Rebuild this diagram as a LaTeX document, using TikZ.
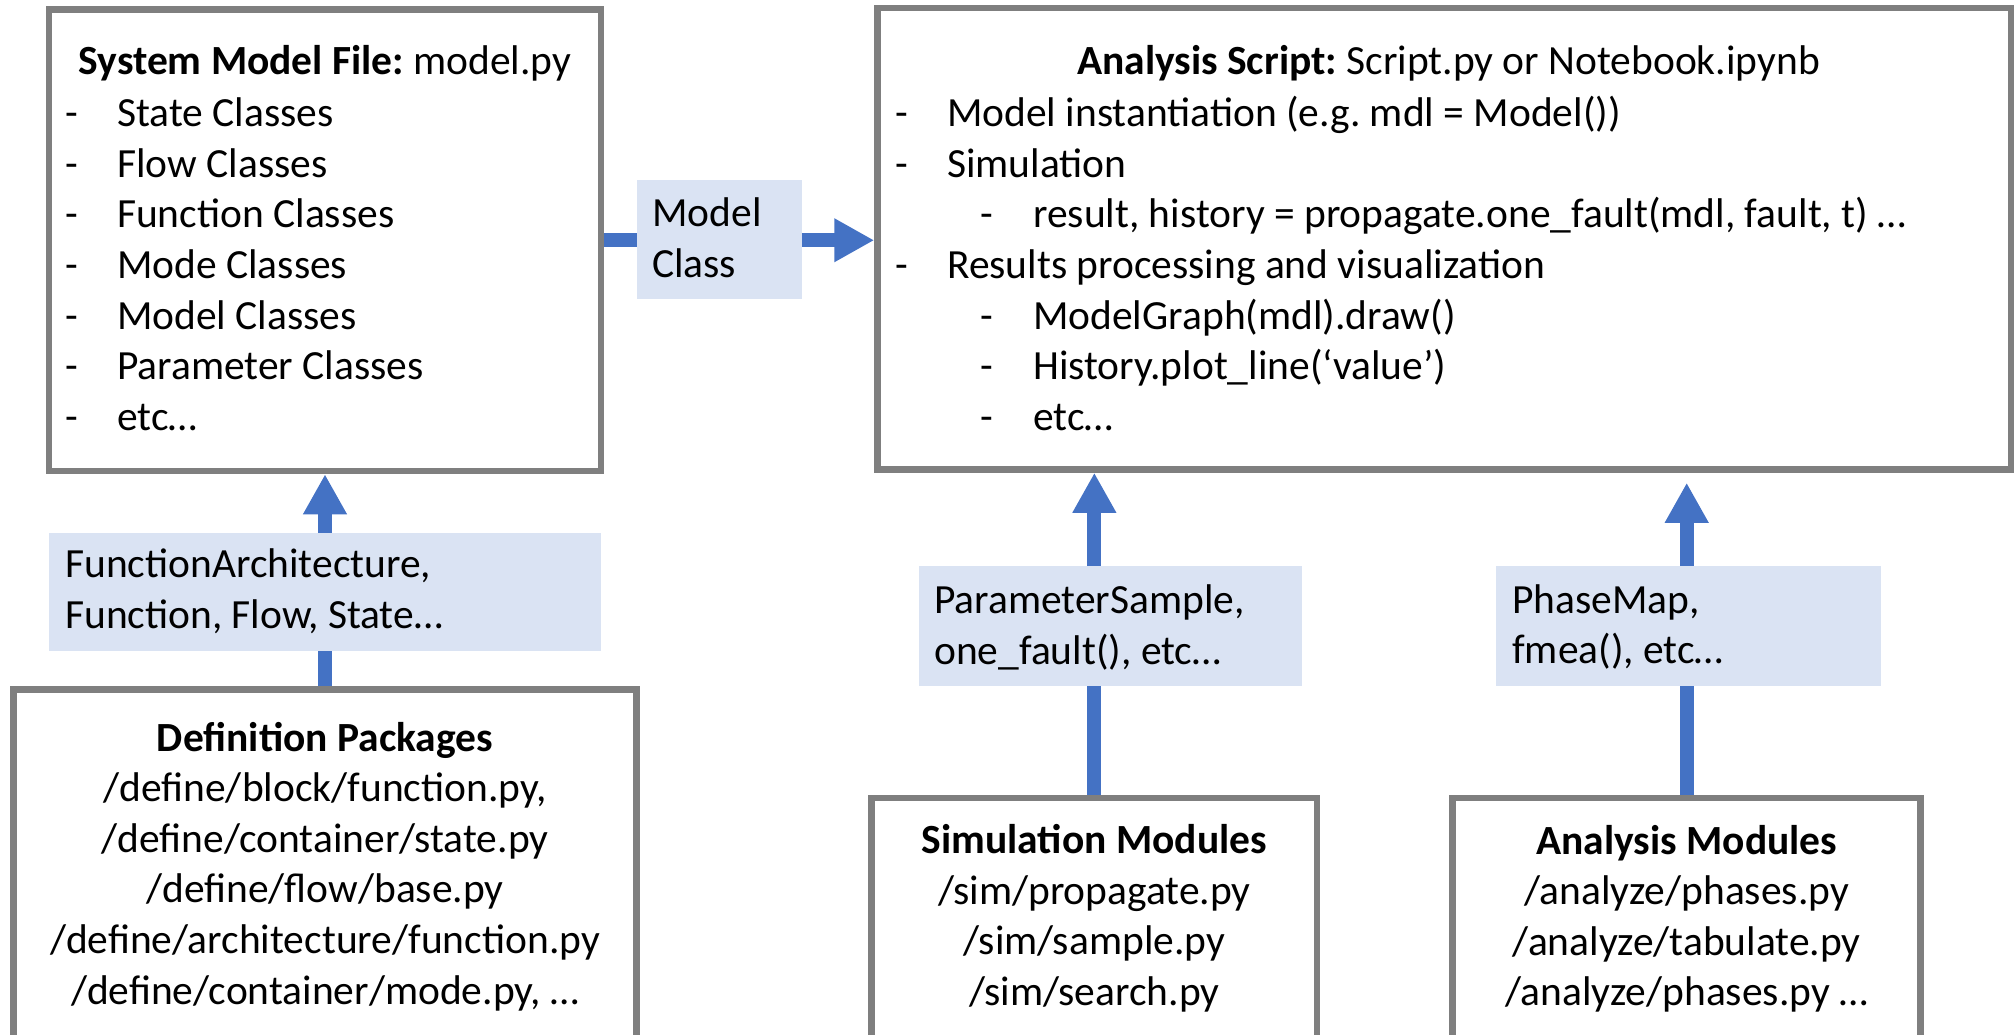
\documentclass[tikz,border=0pt]{standalone}
\usepackage{fontspec}
\setmainfont{Carlito}
\frenchspacing
\usetikzlibrary{arrows.meta}
\definecolor{boxgray}{HTML}{7F7F7F}
\definecolor{tagfill}{HTML}{DAE3F3}
\definecolor{flowblue}{HTML}{4472C4}
% list entries: a dash followed by the item text
\newcommand\itm[1]{\makebox[52pt][l]{-}#1}
\newcommand\subitm[1]{\hspace*{85pt}\makebox[53pt][l]{-}#1}
\newcommand\linesL[1]{\begin{tabular}[t]{@{}l@{}}#1\end{tabular}}
\newcommand\linesC[1]{\begin{tabular}[t]{@{}c@{}}#1\end{tabular}}

\begin{document}
\begin{tikzpicture}[x=1pt,y=-1pt,
  panel/.style={draw=boxgray, line width=6.5pt, fill=white, inner sep=0pt, rectangle},
  tag/.style={fill=tagfill, inner sep=0pt, rectangle},
  txt/.style={inner sep=0pt, font=\fontsize{41.5}{50.6}\selectfont\frenchspacing},
  flow/.style={draw=flowblue, line width=14pt},
  flowtip/.style={flow, -{Triangle[length=40pt,width=41pt]}},
]
\useasboundingbox (0,0) rectangle (2016,1035);

% ---- boxes ----
\node[panel, minimum width=552pt, minimum height=461.5pt] (b1) at (325,240.25) {};
\node[panel, minimum width=1133.5pt, minimum height=461.5pt] (b2) at (1444.25,238.75) {};
\node[panel, minimum width=623pt, minimum height=350.5pt] (def) at (325,864.75) {};
\node[panel, minimum width=445.3pt, minimum height=242pt] (sim) at (1094.35,919) {};
\node[panel, minimum width=468pt, minimum height=242pt] (am) at (1686.7,919.15) {};

% ---- label tags ----
\node[tag, minimum width=164.4pt, minimum height=119.3pt] (mc) at (719.5,239.65) {};
\node[tag, minimum width=552.4pt, minimum height=117.7pt] (fl) at (325.2,591.85) {};
\node[tag, minimum width=382.7pt, minimum height=119.7pt] (sl) at (1110.35,625.85) {};
\node[tag, minimum width=384.7pt, minimum height=119.7pt] (al) at (1688.35,625.85) {};

% ---- connectors ----
\draw[flow] (b1.east) -- (b1.east -| mc.west);
\draw[flowtip] (b1.east -| mc.east) -- (b1.east -| b2.west);
\draw[flow] (def.north) -- (def.north |- fl.south);
\draw[flowtip] (def.north |- fl.north) -- (def.north |- b1.south);
\draw[flow] (sim.north) -- (sim.north |- sl.south);
\draw[flowtip] (sim.north |- sl.north) -- (sim.north |- b2.south);
\draw[flow] (am.north) -- (am.north |- al.south);
\draw[flowtip, shorten >=10pt] (am.north |- al.north) -- (am.north |- b2.south);

% ---- system model file ----
\node[txt, anchor=base] (b1title) at (325,75) {\textbf{System Model File:} model.py};
\node[txt, anchor=base west] (b1list) at (65,126.7) {\linesL{%
  \itm{State Classes}\\
  \itm{Flow Classes}\\
  \itm{Function Classes}\\
  \itm{Mode Classes}\\
  \itm{Model Classes}\\
  \itm{Parameter Classes}\\
  \itm{etc…}}};

% ---- analysis script ----
\node[txt, anchor=base] (b2title) at (1448.5,75) {\textbf{Analysis Script:} Script.py or Notebook.ipynb};
\node[txt, anchor=base west] (b2list) at (895,126.7) {\linesL{%
  \itm{Model instantiation (e.g. mdl = Model())}\\
  \itm{Simulation}\\
  \subitm{result, history = propagate.one\_fault(mdl, fault, t) …}\\
  \itm{Results processing and visualization}\\
  \subitm{ModelGraph(mdl).draw()}\\
  \subitm{History.plot\_line(‘value’)}\\
  \subitm{etc…}}};

% ---- tag texts ----
\node[txt, anchor=base west] (mctext) at (652,226.7) {\linesL{Model\\ Class}};
\node[txt, anchor=base west] (fltext) at (65,577.5) {\linesL{FunctionArchitecture,\\ Function, Flow, State…}};
\node[txt, anchor=base west] (sltext) at (934,613.5) {\linesL{ParameterSample,\\ one\_fault(), etc…}};
\node[txt, anchor=base west] (altext) at (1512,613) {\linesL{PhaseMap,\\ fmea(), etc…}};

% ---- package boxes ----
\node[txt, anchor=base] (deftext) at (325,751) {\linesC{%
  \textbf{Definition Packages}\\
  /define/block/function.py,\\
  /define/container/state.py\\
  /define/flow/base.py\\
  /define/architecture/function.py\\
  /define/container/mode.py, …}};
\node[txt, anchor=base] (simtext) at (1094.35,853.5) {\linesC{%
  \textbf{Simulation Modules}\\
  /sim/propagate.py\\
  /sim/sample.py\\
  /sim/search.py}};
\node[txt, anchor=base] (amtext) at (1686.7,854) {\linesC{%
  \textbf{Analysis Modules}\\
  /analyze/phases.py\\
  /analyze/tabulate.py\\
  /analyze/phases.py …}};
\end{tikzpicture}
\end{document}
